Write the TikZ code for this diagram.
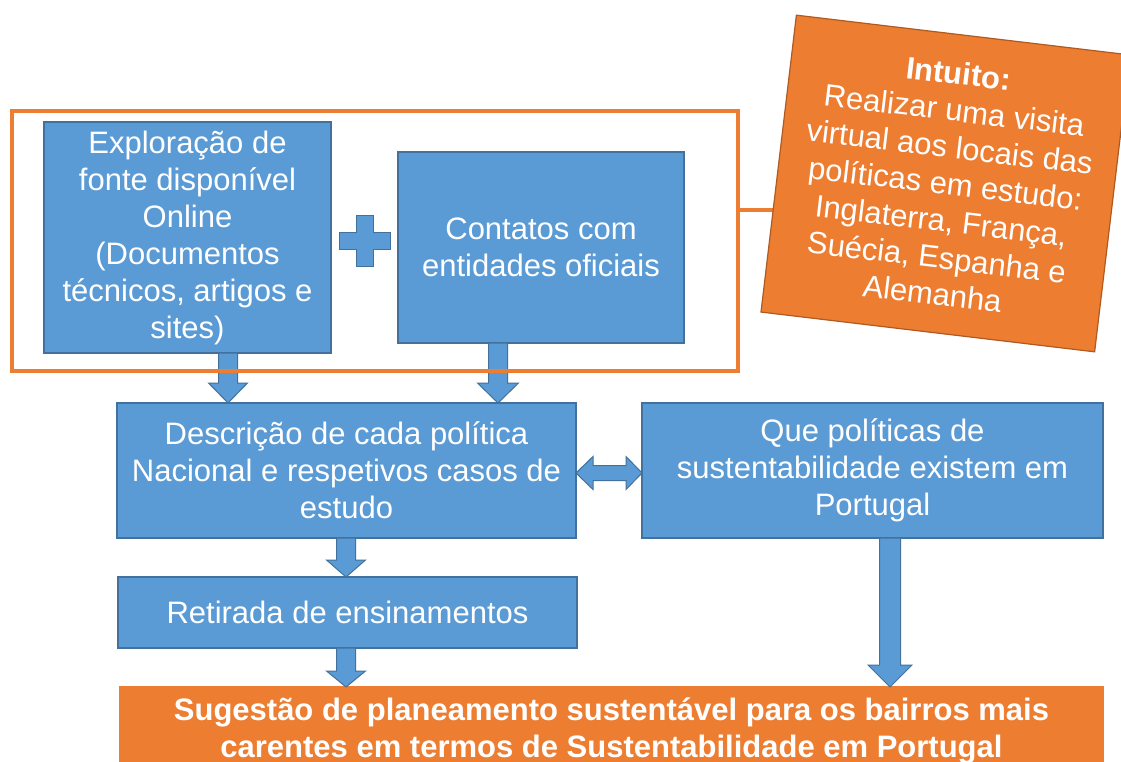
\documentclass[tikz,border=0pt]{standalone}
\usepackage{fontspec}
\setmainfont{Liberation Sans}
\usetikzlibrary{calc}
\definecolor{bfill}{HTML}{5B9BD5}
\definecolor{bline}{HTML}{41719C}
\definecolor{ofill}{HTML}{ED7D31}
\definecolor{oline}{HTML}{AE5A21}
\tikzset{
  bluebox/.style={draw=bline, fill=bfill, line width=1.2pt, text=white, align=center,
    font=\fontsize{31}{37}\selectfont, inner sep=0pt, outer sep=0pt},
  orangebox/.style={draw=oline, fill=ofill, line width=1.2pt, text=white, align=center,
    font=\fontsize{31}{37}\selectfont, inner sep=0pt, outer sep=0pt},
  blockarrow/.style={draw=bline, fill=bfill, line width=1pt, line join=miter},
  grouprect/.style={draw=ofill, line width=4pt},
  linkline/.style={draw=ofill, line width=4pt}
}
\newcommand{\blkdown}[5]{%
  \draw[blockarrow] let \p1=(#1), \p2=(#2) in
    (\x1-#3pt,\y1) -- (\x1+#3pt,\y1) -- (\x1+#3pt,\y2+#5pt) -- (\x1+#4pt,\y2+#5pt)
    -- (\x1,\y2) -- (\x1-#4pt,\y2+#5pt) -- (\x1-#3pt,\y2+#5pt) -- cycle;}
\begin{document}
\begin{tikzpicture}[x=1pt,y=-1pt]
\clip (0,0) rectangle (1121,762);
\fill[white] (0,0) rectangle (1121,762);

% boxes
\node[bluebox, minimum width=287pt, minimum height=231pt] (A) at (187.5,237.5)
  {Exploração de\\fonte disponível\\Online\\(Documentos\\técnicos, artigos e\\sites)};
\node[bluebox, minimum width=286pt, minimum height=191pt] (B) at (541,247.5)
  {Contatos com\\entidades oficiais};
\node[bluebox, minimum width=459pt, minimum height=135pt] (C) at (346.5,470.5)
  {Descrição de cada política\\Nacional e respetivos casos de\\estudo};
\node[bluebox, minimum width=461pt, minimum height=135pt] (D) at (872.5,470.5)
  {Que políticas de\\sustentabilidade existem em\\Portugal};
\node[bluebox, minimum width=459pt, minimum height=71pt] (E) at (347.5,612.5)
  {Retirada de ensinamentos};
\node[orangebox, draw=ofill, minimum width=983pt, minimum height=88pt, font=\bfseries\fontsize{31}{37}\selectfont] (F) at (611.5,731)
  {Sugestão de planeamento sustentável para os bairros mais\\carentes em termos de Sustentabilidade em Portugal};

% plus sign
\draw[blockarrow] (356.5,215.5) -- (373.5,215.5) -- (373.5,232.5) -- (390.5,232.5)
  -- (390.5,249.5) -- (373.5,249.5) -- (373.5,266.5) -- (356.5,266.5)
  -- (356.5,249.5) -- (339.5,249.5) -- (339.5,232.5) -- (356.5,232.5) -- cycle;

% block arrows
\coordinate (xa) at (228,0);
\coordinate (xb) at (498,0);
\coordinate (xc) at (346,0);
\coordinate (xd) at (890,0);
\coordinate (ya) at (0,473);
\blkdown{xa |- A.south}{xa |- C.north}{9.5}{19.5}{20}
\blkdown{xb |- B.south}{xb |- C.north}{9.5}{20.5}{20}
\blkdown{xc |- C.south}{xc |- E.north}{9.5}{19.5}{17}
\blkdown{xc |- E.south}{xc |- F.north}{9.5}{19.5}{16}
\blkdown{xd |- D.south}{xd |- F.north}{10.5}{22}{22}
\draw[blockarrow] let \p1=(C.east |- ya), \p2=(D.west |- ya) in
  (\x1,\y1) -- (\x1+17pt,\y1+16.5pt) -- (\x1+17pt,\y1+7.5pt) -- (\x2-16pt,\y1+7.5pt)
  -- (\x2-16pt,\y1+16.5pt) -- (\x2,\y1) -- (\x2-16pt,\y1-16.5pt) -- (\x2-16pt,\y1-7.5pt)
  -- (\x1+17pt,\y1-7.5pt) -- (\x1+17pt,\y1-16.5pt) -- cycle;

% group outline
\node[grouprect, minimum width=726pt, minimum height=260pt, inner sep=0pt] (grp) at (375,241) {};

% link to intent box
\coordinate (lk) at (780,210);
\draw[linkline] (grp.east |- lk) -- (lk);

% rotated intent box
\node[orangebox, rotate=-6.8, minimum width=336pt, minimum height=299pt] (I) at (945.5,183.5)
  {\textbf{Intuito:}\\Realizar uma visita\\virtual aos locais das\\políticas em estudo:\\Inglaterra, França,\\Suécia, Espanha e\\Alemanha};
\end{tikzpicture}
\end{document}
